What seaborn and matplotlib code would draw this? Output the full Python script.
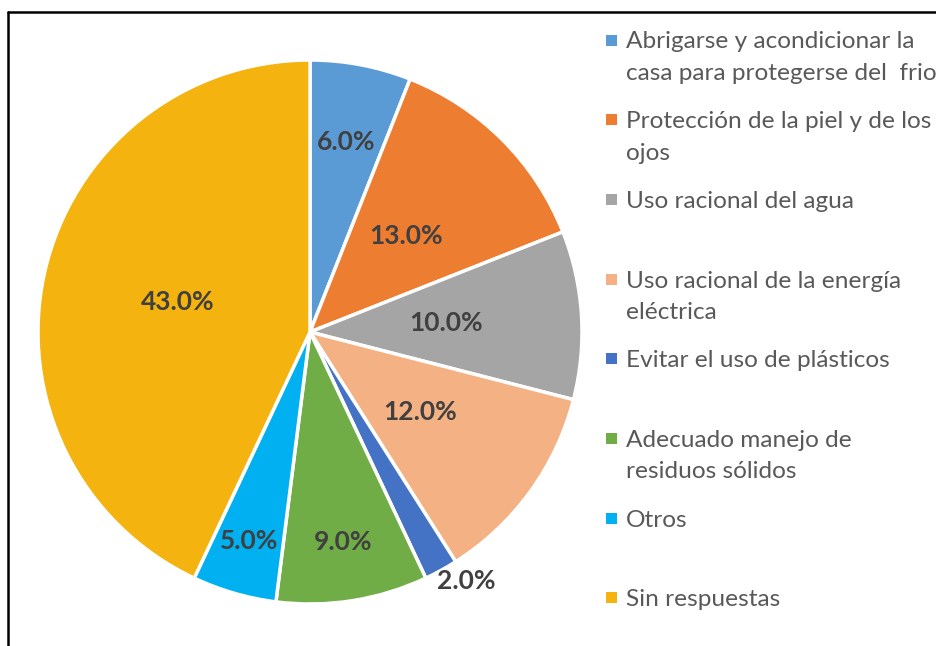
import numpy as np
import seaborn as sns
import matplotlib.pyplot as plt
from matplotlib.lines import Line2D
from matplotlib.patches import Rectangle

# data
categories = [
    "Abrigarse y acondicionar la\ncasa para protegerse del  frio",
    "Protección de la piel y de los\nojos",
    "Uso racional del agua",
    "Uso racional de la energía\neléctrica",
    "Evitar el uso de plásticos",
    "Adecuado manejo de\nresiduos sólidos",
    "Otros",
    "Sin respuestas",
]
percent = [6.0, 13.0, 10.0, 12.0, 2.0, 9.0, 5.0, 43.0]

colors = ["#5B9BD5", "#ED7D31", "#A5A5A5", "#F4B183",
          "#4472C4", "#70AD47", "#00B0F0", "#F4B30E"]
# radial position of each value label (fraction of radius)
label_r = [0.71, 0.5, 0.5, 0.5, 1.09, 0.78, 0.8, 0.5]

sns.set_theme(style="white")
plt.rcParams["font.family"] = ["Lato", "DejaVu Sans"]

W, H = 936, 646
fig = plt.figure(figsize=(W / 100, H / 100), dpi=100)
fig.patch.set_facecolor("white")

# pie centre and radius in pixels
cx, cy, r = 310, 332, 272
ax = fig.add_axes([(cx - r) / W, (H - cy - r) / H, 2 * r / W, 2 * r / H])
palette = sns.color_palette(colors)
wedges, _ = ax.pie(percent, colors=palette, startangle=90, counterclock=False,
                   wedgeprops=dict(edgecolor="white", linewidth=2.5))
ax.set_xlim(-1, 1)
ax.set_ylim(-1, 1)
ax.set_aspect("equal")
ax.axis("off")

for i, (w, p, fr) in enumerate(zip(wedges, percent, label_r)):
    ang = np.deg2rad((w.theta1 + w.theta2) / 2)
    x, y = fr * np.cos(ang), fr * np.sin(ang)
    if fr > 1:
        # outside label sits a little more to the right, as in the reference
        x += 0.05
        y += 0.04
    ax.text(x, y, f"{p:.1f}%",
            ha="center", va="center", fontsize=19, fontweight="bold",
            color="#404040")

# legend drawn by hand so wrapped entries keep the marker on the first line
first_y = 40
step = 79.7
line_gap = 31.5
for i, (lab, col) in enumerate(zip(categories, palette)):
    yc = first_y + step * i
    fig.add_artist(Rectangle((606 / W, 1 - (yc + 5.5) / H), 11 / W, 11 / H,
                             transform=fig.transFigure, color=col, lw=0))
    for k, line in enumerate(lab.split("\n")):
        fig.text(626 / W, 1 - (yc + 8.5 + k * line_gap) / H, line,
                 ha="left", va="baseline", fontsize=17.6, color="#595959")

# chart frame (only left and top edges fall inside the crop)
fig.add_artist(Line2D([8 / W, 8 / W], [0, 1 - 12 / H], color="black", lw=1.8,
                      transform=fig.transFigure))
fig.add_artist(Line2D([8 / W, 1], [1 - 12 / H, 1 - 12 / H], color="black", lw=1.8,
                      transform=fig.transFigure))

fig.savefig("out.png", dpi=100)
